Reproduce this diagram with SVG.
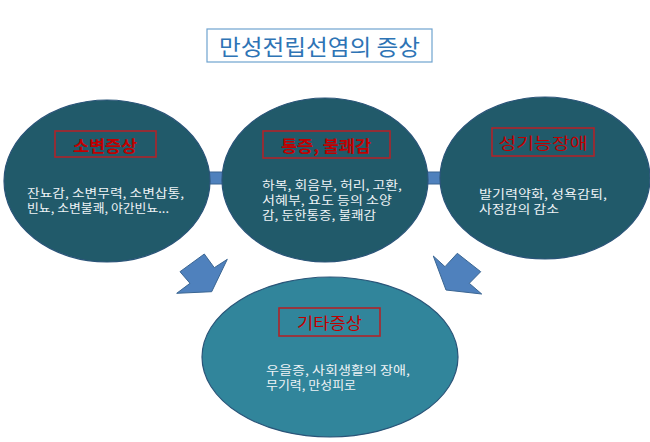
<svg xmlns="http://www.w3.org/2000/svg" width="650" height="442" viewBox="0 0 650 442">
<style>
text{font-family:"Noto Sans CJK KR","Noto Sans",sans-serif}
.title{font-size:22px;fill:#2E74B5}
.lab{font-size:16px;fill:#C00000}
.labbox{fill:none;stroke:#B0242A;stroke-width:1.6}
.body{font-size:12px;fill:#EEF3F6}
.top{fill:#215A6A;stroke:#2A5478;stroke-width:1.2}
.bot{fill:#31859B;stroke:#2A5478;stroke-width:1.2}
.bar{fill:#4F81BD;stroke:#3A6592;stroke-width:1}
</style>
<rect width="650" height="442" fill="#FFFFFF"/>
<g id="title">
<rect x="207" y="29" width="225" height="33" fill="#FFFFFF" stroke="#6FA3CF" stroke-width="1.2"/>
<text class="title" x="219" y="55" textLength="201" lengthAdjust="spacingAndGlyphs">만성전립선염의 증상</text>
</g>
<g id="connectors">
<rect class="bar" x="204" y="172" width="22" height="12"/>
<rect class="bar" x="424" y="172" width="20" height="12"/>
<polygon class="bar" points="180,271.7 204.3,254 214.3,267.7 227.3,259.3 211.7,291.7 176.7,293.3 190,283.3"/>
<polygon class="bar" points="433.3,256 445,266.7 457.3,253.3 480.7,271.7 469.3,283.3 481.7,294 446,290"/>
</g>
<g id="node-urinary">
<ellipse class="top" cx="107" cy="181" rx="103" ry="81"/>
<rect class="labbox" x="55" y="131" width="101" height="26"/>
<text class="lab" x="105" y="152" text-anchor="middle" font-weight="bold" textLength="64" lengthAdjust="spacingAndGlyphs">소변증상</text>
<text class="body"><tspan x="27" y="198" textLength="157" lengthAdjust="spacingAndGlyphs">잔뇨감, 소변무력, 소변삽통,</tspan><tspan x="27" y="213" textLength="142" lengthAdjust="spacingAndGlyphs">빈뇨, 소변불쾌, 야간빈뇨...</tspan></text>
</g>
<g id="node-pain">
<ellipse class="top" cx="325" cy="180" rx="103" ry="82"/>
<rect class="labbox" x="263" y="131" width="127" height="27"/>
<text class="lab" x="326" y="152" text-anchor="middle" font-weight="bold" textLength="90" lengthAdjust="spacingAndGlyphs">통증, 불쾌감</text>
<text class="body"><tspan x="262" y="190" textLength="140" lengthAdjust="spacingAndGlyphs">하복, 회음부, 허리, 고환,</tspan><tspan x="262" y="205" textLength="130" lengthAdjust="spacingAndGlyphs">서혜부, 요도 등의 소양</tspan><tspan x="262" y="220" textLength="114" lengthAdjust="spacingAndGlyphs">감, 둔한통증, 불쾌감</tspan></text>
</g>
<g id="node-sexual">
<ellipse class="top" cx="545" cy="178" rx="105" ry="81"/>
<rect class="labbox" x="492" y="128" width="102" height="28"/>
<text class="lab" x="543" y="149" text-anchor="middle" textLength="89" lengthAdjust="spacingAndGlyphs">성기능장애</text>
<text class="body"><tspan x="479" y="199" textLength="128" lengthAdjust="spacingAndGlyphs">발기력약화, 성욕감퇴,</tspan><tspan x="479" y="214" textLength="80" lengthAdjust="spacingAndGlyphs">사정감의 감소</tspan></text>
</g>
<g id="node-other">
<ellipse class="bot" cx="330" cy="357" rx="128" ry="80"/>
<rect class="labbox" x="279" y="308" width="101" height="28"/>
<text class="lab" x="329.5" y="329" text-anchor="middle" textLength="65" lengthAdjust="spacingAndGlyphs">기타증상</text>
<text class="body"><tspan x="266" y="375" textLength="144" lengthAdjust="spacingAndGlyphs">우을증, 사회생활의 장애,</tspan><tspan x="266" y="390" textLength="90" lengthAdjust="spacingAndGlyphs">무기력, 만성피로</tspan></text>
</g>
</svg>
